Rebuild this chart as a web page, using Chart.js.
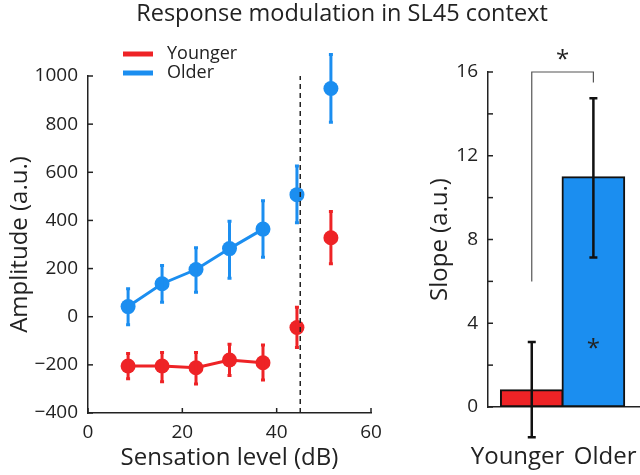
<!DOCTYPE html>
<html>
<head>
<meta charset="utf-8">
<script src="https://cdn.jsdelivr.net/npm/chart.js@4"></script>
<style>
body { margin: 0; background: #fff; width: 640px; height: 475px; position: relative; overflow: hidden; font-family: 'Open Sans', sans-serif; }
#title { position: absolute; left: 22px; top: -4px; width: 640px; text-align: center; font-size: 23.5px; line-height: 32px; color: #222; white-space: nowrap; }
#left { position: absolute; left: 0; top: 0; }
#right { position: absolute; left: 420px; top: 0; }
</style>
</head>
<body>
<canvas id="left" width="420" height="475"></canvas>
<canvas id="right" width="220" height="475"></canvas>
<div id="title">Response modulation in SL45 context</div>
<script>
// Amplitude x sensation level
const levels = [8.5, 15.7, 22.9, 30, 37.1, 44.3, 51.5];
const youngerAmp = [-205, -205, -212, -180, -191, -45, 328];
const youngerLo = [-258, -270, -280, -244, -263, -128, 220];
const youngerHi = [-153, -149, -149, -114, -117, 39, 437];
const olderAmp = [42, 137, 196, 283, 364, 507, 948];
const olderLo = [-33, 60, 102, 160, 247, 390, 808];
const olderHi = [116, 213, 287, 397, 482, 626, 1089];
const sl45 = 45;
const seriesNames = ['Younger', 'Older'];

// Slope per group
const groups = ['Younger', 'Older'];
const slope = [0.83, 11.0];
const slopeLo = [-1.44, 7.14];
const slopeHi = [3.11, 14.75];

const red = '#ee2326';
const blue = '#1b8ef0';
const ink = '#222';

Chart.defaults.font.family = "'Open Sans', sans-serif";
Chart.defaults.color = ink;

const errorBars = {
    id: 'errorBars',
    afterDatasetsDraw(chart, args, opts) {
        const { ctx, scales: { x, y } } = chart;
        (opts.sets || []).forEach(s => {
            ctx.save();
            ctx.strokeStyle = s.color;
            ctx.lineWidth = s.width;
            s.xs.forEach((xv, i) => {
                const px = x.getPixelForValue(xv);
                const top = y.getPixelForValue(s.hi[i]);
                const bot = y.getPixelForValue(s.lo[i]);
                ctx.beginPath();
                ctx.moveTo(px, top); ctx.lineTo(px, bot);
                ctx.moveTo(px - s.cap, top); ctx.lineTo(px + s.cap, top);
                ctx.moveTo(px - s.cap, bot); ctx.lineTo(px + s.cap, bot);
                ctx.stroke();
            });
            ctx.restore();
        });
    }
};

// small inward tick marks
const tickMarks = {
    id: 'tickMarks',
    afterDraw(chart, args, opts) {
        const ctx = chart.ctx;
        const { left, bottom } = chart.chartArea;
        ctx.save();
        ctx.strokeStyle = ink;
        ctx.lineWidth = 1.5;
        (opts.axes || []).forEach(id => {
            const s = chart.scales[id];
            s.ticks.forEach(t => {
                const p = s.getPixelForValue(t.value);
                ctx.beginPath();
                if (s.isHorizontal()) { ctx.moveTo(p, bottom); ctx.lineTo(p, bottom - opts.len); }
                else { ctx.moveTo(left, p); ctx.lineTo(left + opts.len, p); }
                ctx.stroke();
            });
        });
        ctx.restore();
    }
};

const lineLegend = {
    id: 'lineLegend',
    afterDraw(chart, args, opts) {
        const ctx = chart.ctx;
        ctx.save();
        ctx.font = "18px 'Open Sans'";
        ctx.textBaseline = 'middle';
        opts.items.forEach((it, i) => {
            const y = opts.y + i * opts.gap;
            ctx.strokeStyle = it.color;
            ctx.lineWidth = 5;
            ctx.beginPath(); ctx.moveTo(opts.x, y); ctx.lineTo(opts.x + 30, y); ctx.stroke();
            ctx.fillStyle = ink;
            ctx.fillText(it.label, opts.x + 44, y);
        });
        ctx.restore();
    }
};

const stars = {
    id: 'stars',
    afterDraw(chart, args, opts) {
        const { ctx, scales: { x, y } } = chart;
        ctx.save();
        ctx.font = "24px 'Open Sans'";
        ctx.textAlign = 'center';
        ctx.textBaseline = 'middle';
        ctx.fillStyle = ink;
        opts.marks.forEach(m => ctx.fillText('*', x.getPixelForValue(m.x), y.getPixelForValue(m.y) + 6));
        ctx.restore();
    }
};

const minus = v => v < 0 ? '\u2212' + (-v) : String(v);
const hideTail = color => ctx => ctx.p1DataIndex > 4 ? 'rgba(0,0,0,0)' : color;
const pts = vals => levels.map((l, i) => ({ x: l, y: vals[i] }));
// fixed axis boxes, no label overflow padding
const fixH = h => s => { s.height = h; s.paddingLeft = 0; s.paddingRight = 0; };
const fixW = w => s => { s.width = w; s.paddingTop = 0; s.paddingBottom = 0; };

new Chart(document.getElementById('left'), {
    type: 'scatter',
    data: {
        datasets: [{
            label: 'SL45',
            data: [{ x: sl45, y: -400 }, { x: sl45, y: 1000 }],
            showLine: true,
            borderColor: ink,
            borderWidth: 1.5,
            borderDash: [5, 4],
            pointRadius: 0
        }, {
            label: seriesNames[0],
            data: pts(youngerAmp),
            showLine: true,
            borderColor: red,
            borderWidth: 3,
            segment: { borderColor: hideTail(red) },
            pointRadius: 7.5,
            pointBackgroundColor: red,
            pointBorderWidth: 0
        }, {
            label: seriesNames[1],
            data: pts(olderAmp),
            showLine: true,
            borderColor: blue,
            borderWidth: 3,
            segment: { borderColor: hideTail(blue) },
            pointRadius: 7.5,
            pointBackgroundColor: blue,
            pointBorderWidth: 0
        }]
    },
    options: {
        responsive: false,
        animation: false,
        layout: { padding: { top: 76, right: 49, left: 0, bottom: 0 } },
        plugins: {
            legend: { display: false },
            tooltip: { enabled: false },
            errorBars: { sets: [
                { xs: levels, lo: youngerLo, hi: youngerHi, color: red, width: 3, cap: 2 },
                { xs: levels, lo: olderLo, hi: olderHi, color: blue, width: 3, cap: 2 }
            ] },
            tickMarks: { axes: ['x', 'y'], len: 5 },
            lineLegend: { x: 123, y: 54, gap: 19, items: seriesNames.map((n, i) => ({ label: n, color: [red, blue][i] })) }
        },
        scales: {
            x: {
                type: 'linear', min: 0, max: 60,
                ticks: { stepSize: 20, padding: 8, font: { size: 19 } },
                grid: { display: false, drawTicks: false },
                border: { display: true, color: ink, width: 1.5 },
                title: { display: true, text: 'Sensation level (dB)', font: { size: 24 }, padding: { top: 0, bottom: 2 } },
                afterFit: fixH(62)
            },
            y: {
                min: -400, max: 1000,
                ticks: { stepSize: 200, padding: 10, font: { size: 19 }, callback: minus },
                grid: { display: false, drawTicks: false },
                border: { display: true, color: ink, width: 1.5 },
                title: { display: true, text: 'Amplitude (a.u.)', font: { size: 24 }, padding: { top: 6, bottom: 0 } },
                afterFit: fixW(88)
            }
        }
    },
    plugins: [errorBars, tickMarks, lineLegend]
});

new Chart(document.getElementById('right'), {
    type: 'bar',
    data: {
        datasets: [{
            type: 'bar',
            label: 'Slope',
            data: groups.map((g, i) => ({ x: i + 1, y: slope[i] })),
            backgroundColor: [red, blue],
            borderColor: '#111',
            borderWidth: 2,
            borderSkipped: false,
            barThickness: 63
        }, {
            type: 'line',
            label: 'bracket',
            data: [{ x: 1, y: 6 }, { x: 1, y: 16 }, { x: 2, y: 16 }, { x: 2, y: 15.5 }],
            borderColor: '#555',
            borderWidth: 1.2,
            pointRadius: 0,
            clip: false
        }]
    },
    options: {
        responsive: false,
        animation: false,
        layout: { padding: { top: 72, right: 1, left: 0, bottom: 0 } },
        plugins: {
            legend: { display: false },
            tooltip: { enabled: false },
            errorBars: { sets: [
                { xs: [1, 2], lo: slopeLo, hi: slopeHi, color: '#111', width: 2.5, cap: 4 }
            ] },
            tickMarks: { axes: ['y'], len: 5 },
            stars: { marks: [{ x: 1.5, y: 16.85 }, { x: 2, y: 3.05 }] }
        },
        scales: {
            x: {
                type: 'linear', min: 0.29, max: 2.74, offset: false,
                afterBuildTicks: s => { s.ticks = [{ value: 0.77 }, { value: 2.19 }]; },
                ticks: { padding: 36, font: { size: 24 }, maxRotation: 0, minRotation: 0, autoSkip: false, callback: (v, i) => groups[i] },
                grid: { display: false, drawTicks: false },
                border: { display: true, color: ink, width: 1.5 },
                afterFit: fixH(68)
            },
            y: {
                min: 0, max: 16,
                ticks: { stepSize: 2, padding: 10, font: { size: 19 }, callback: v => v % 4 === 0 ? v : '' },
                grid: { display: false, drawTicks: false },
                border: { display: true, color: ink, width: 1.5 },
                title: { display: true, text: 'Slope (a.u.)', font: { size: 24 }, padding: { top: 6, bottom: 0 } },
                afterFit: fixW(68)
            }
        }
    },
    plugins: [errorBars, tickMarks, stars]
});
</script>
</body>
</html>
